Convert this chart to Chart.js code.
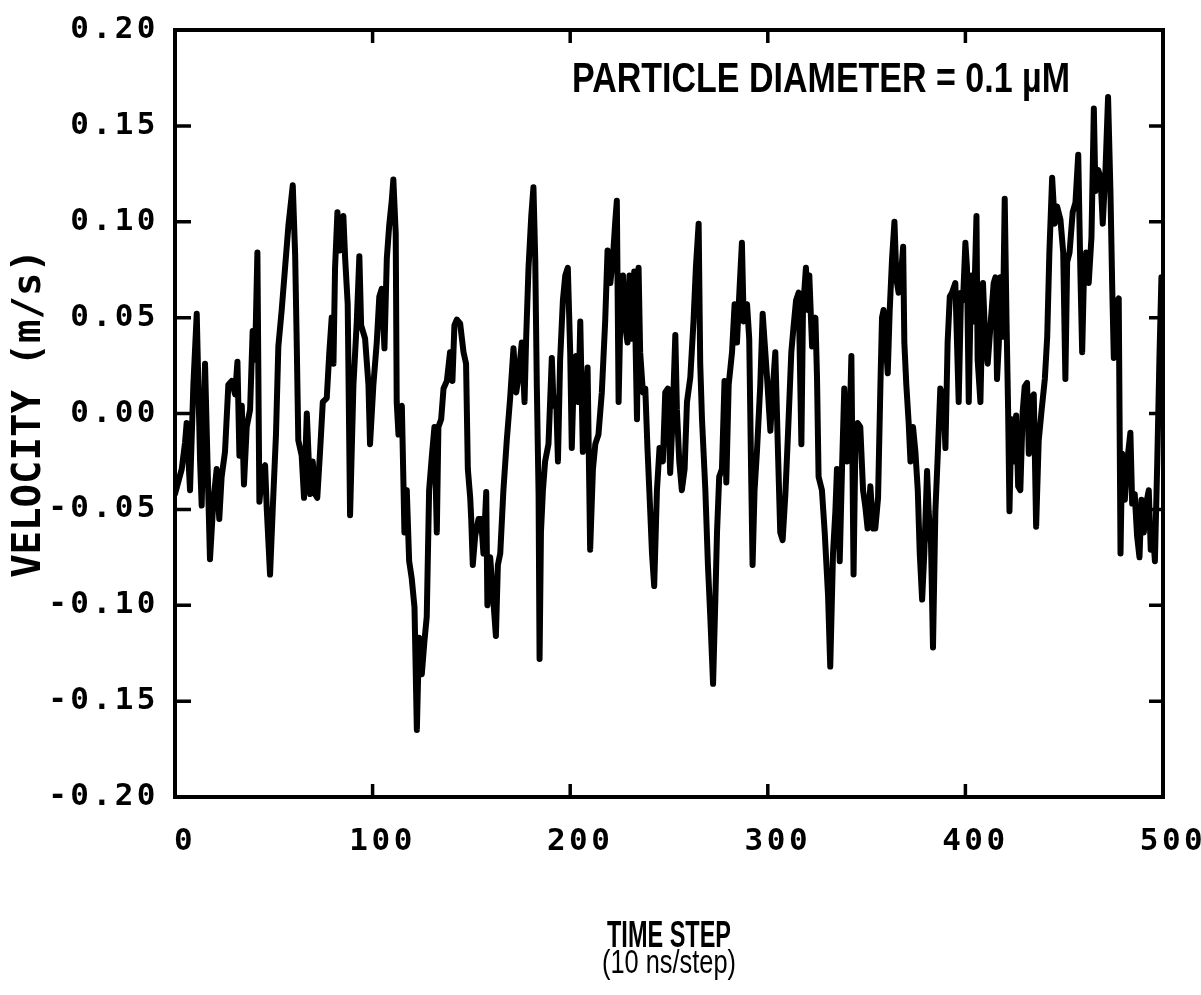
<!DOCTYPE html>
<html>
<head>
<meta charset="utf-8">
<script src="https://cdn.jsdelivr.net/npm/chart.js@4/dist/chart.umd.min.js"></script>
<style>
  body { margin: 0; background: #fff; }
  canvas { display: block; }
</style>
</head>
<body>
<canvas id="velocityChart" width="1201" height="995"></canvas>
<script>
// time step of each sample (10 ns/step)
const steps = [
  0, 3.4, 5.1, 5.9, 7.6, 9.3, 11, 12.7, 13.5, 15.2, 16.9, 17.7, 19.4, 21.1, 22.4, 23.6, 25.3, 27, 28.7, 30.4,
  31.6, 32.6, 33.8, 34.9, 36.3, 38, 39.3, 40.5, 41.7, 42.7, 44.4, 45.6, 46.4, 48.1, 49.5, 51.1, 52.3, 54, 55.7, 57.4,
  59.6, 60.8, 61.6, 62.4, 64.1, 65.3, 66.7, 68.4, 69.7, 70.9, 72, 73.4, 74.8, 76.8, 78.1, 79.3, 80.2, 81, 82.2,
  83.5, 85.2, 86.1, 87.4, 88.6, 90.3, 92, 93.3, 94.2, 96.2, 97.9, 98.7, 100.4, 102.1, 103.4, 104.6, 106, 107.2, 108.4, 109.7,
  110.5, 111.7, 112.2, 113.1, 114.8, 115.6, 116.1, 117.3, 118.5, 119.8, 121.2, 122.4, 123.5, 124.9, 126.2, 127.4, 128.6, 130, 131.3, 132.5,
  133.3, 134.7, 135.9, 137.6, 139.2, 140.4, 141.4, 142.6, 144.3, 146, 147.3, 148.2, 149.4, 149.9, 150.7, 151.9, 153.6, 154.9, 156.1, 157.5,
  158.1, 159.5, 161.2, 162.4, 163.4, 164.6,
  166.2, 167.9, 169.6, 171.3, 172.7, 173.8, 175.5, 176.9, 177.7, 178.9, 180.3, 181.4, 182.3, 183.1, 184, 184.5, 185.2, 186.2, 187.3, 189,
  190.7, 191.6, 192.9, 193.8, 194.9, 196.3, 197.5, 198.8, 200, 200.8, 201.7, 203, 204.2, 205.1, 206.4, 207.6, 208.8, 210.1, 211.5, 212.7,
  214.3, 216, 217.7, 218.9, 220.3, 221.6, 222.8, 223.6, 224.5, 225.3, 226.7, 227.8, 229, 230, 231.2, 232.4, 233.8, 234.6, 235.4, 236.8,
  238, 239.1, 240.5, 241.4, 242.5, 243.9, 245.2, 246.9, 248.1,
  249.4, 250.6, 251.8, 253.2, 254, 255.2, 256.5, 257.9, 259.1, 260.8, 262.4, 263.6, 265, 265.8, 266.7, 268.4, 269.7, 270.9, 272.3, 273.4,
  274.3, 275.4, 276.8, 278.1, 279, 280.2, 281.9, 283.2, 284.4, 285.6, 286.9, 287.8, 289.5, 290.6, 291.6, 292.3, 293.3, 294.5, 296.2, 297.4,
  298.4, 299.6, 301.3, 302.4, 303.8, 305.2, 306.3, 307.5, 308.9, 310.2, 311.9, 313.1, 314.3, 315.6, 317, 317.8, 319.3, 320.3, 321, 322.4,
  324.1, 324.9, 325.7, 327.4, 328.8, 330.5, 331.6, 333, 334.2,
  335, 336.4, 337.6, 338.7, 340.1, 341.4, 342.3, 343.4, 344.3, 345.5, 346.8, 348.2, 349.4, 350.5, 351.9, 353.3, 354.4, 355.8, 357, 357.8,
  358.6, 359.7, 360.7, 361.7, 362.9, 364.1, 365.1, 366.2, 367.4, 368.5, 369.1, 370.1, 371.3, 372.2, 373.5, 374.7, 375.9, 376.9, 378.1, 379.2,
  380.6, 381.4, 382.6, 383.6, 384.8, 386, 387.3, 389, 389.9, 391, 392.1, 393.2, 394.9, 396.6, 397.8, 398.8, 400, 400.8, 401.7, 402.9,
  404.2, 405.6, 406.2, 407.6, 408.9, 410.1, 411.3, 412.7, 414.3,
  415.2, 416, 416.9, 417.7, 418.9, 419.9, 420.8, 421.6, 422.3, 423.3, 424.5, 425.7, 426.7, 427.8, 429, 430, 431.2, 432.1, 433.4, 434.6,
  435.8, 437.1, 438.5, 440.2, 441.4, 442.5, 443.9, 445.2, 446.4, 448.1, 449.5, 450.6, 451.5, 452.7, 454.3, 455.7, 457.1, 458.2, 459.1, 459.9,
  461.1, 462.4, 463.8, 465, 465.8, 467.2, 468.4, 469.5, 470.9, 472.2, 473.4, 474.3, 475.1, 476.3, 477.6, 478.5, 479.3, 480.7, 481.9, 483.5,
  484.4, 485.7, 486.9, 488.1, 489.1, 490.3, 491.5, 492.8, 493.8, 494.8, 495.9, 497.1, 498.2, 499.2, 500
];

// particle velocity (m/s) at each step
const velocity = [
  -0.042, -0.029, -0.015, -0.005, -0.040, 0.015, 0.052, -0.025, -0.048, 0.026, -0.044, -0.076, -0.046, -0.029, -0.055, -0.033, -0.020, 0.015, 0.017, 0.010,
  0.027, -0.022, 0.004, -0.037, -0.007, 0.002, 0.043, 0.028, 0.084, -0.046, -0.029, -0.027, -0.049, -0.084, -0.049, -0.011, 0.035, 0.054, 0.076, 0.098,
  0.119, 0.083, 0.037, -0.014, -0.022, -0.044, 0.000, -0.042, -0.025, -0.042, -0.044, -0.020, 0.006, 0.008, 0.032, 0.050, 0.026, 0.076, 0.105,
  0.085, 0.103, 0.081, 0.057, -0.053, 0.015, 0.048, 0.082, 0.046, 0.039, 0.015, -0.016, 0.015, 0.037, 0.061, 0.065, 0.034, 0.081, 0.098, 0.111,
  0.122, 0.094, 0.006, -0.011, 0.004, -0.036, -0.062, -0.040, -0.077, -0.086, -0.101, -0.165, -0.117, -0.136, -0.119, -0.106, -0.040, -0.022, -0.007, -0.062,
  -0.007, -0.003, 0.013, 0.017, 0.032, 0.017, 0.046, 0.049, 0.047, 0.032, 0.026, -0.029, -0.044, -0.055, -0.079, -0.064, -0.055, -0.055, -0.073, -0.041,
  -0.100, -0.075, -0.099, -0.116, -0.079, -0.073,
  -0.040, -0.014, 0.008, 0.034, 0.011, 0.019, 0.037, 0.006, 0.039, 0.076, 0.103, 0.118, 0.081, 0.015, -0.042, -0.128, -0.062, -0.040, -0.025, -0.016,
  0.029, 0.004, 0.008, -0.025, 0.028, 0.059, 0.072, 0.076, 0.032, -0.018, 0.015, 0.030, 0.006, 0.048, -0.020, 0.002, 0.024, -0.071, -0.029, -0.016,
  -0.011, 0.011, 0.048, 0.085, 0.068, 0.081, 0.100, 0.111, 0.006, 0.046, 0.072, 0.046, 0.037, 0.072, 0.039, 0.074, -0.003, 0.076, 0.032, 0.011,
  0.013, -0.018, -0.051, -0.073, -0.090, -0.040, -0.018, -0.025, 0.011,
  0.013, -0.031, -0.003, 0.041, 0.002, -0.025, -0.040, -0.029, 0.006, 0.019, 0.048, 0.076, 0.099, 0.026, -0.003, -0.040, -0.079, -0.106, -0.141, -0.099,
  -0.062, -0.033, -0.029, 0.017, -0.036, 0.015, 0.032, 0.057, 0.037, 0.063, 0.089, 0.048, 0.057, 0.039, -0.033, -0.079, -0.040, -0.020, 0.015, 0.052,
  0.037, 0.019, -0.009, 0.011, 0.032, -0.022, -0.062, -0.066, -0.042, -0.011, 0.032, 0.046, 0.059, 0.063, -0.016, 0.054, 0.076, 0.054, 0.072, 0.035,
  0.050, 0.019, -0.033, -0.040, -0.062, -0.095, -0.132, -0.073, -0.051,
  -0.029, -0.077, -0.027, 0.013, -0.025, -0.007, 0.030, -0.084, -0.018, -0.005, -0.007, -0.040, -0.049, -0.060, -0.038, -0.060, -0.060, -0.044, 0.015, 0.050,
  0.054, 0.037, 0.021, 0.054, 0.081, 0.100, 0.070, 0.063, 0.072, 0.087, 0.037, 0.015, -0.005, -0.025, -0.007, -0.020, -0.040, -0.073, -0.097, -0.073,
  -0.030, -0.051, -0.068, -0.122, -0.051, -0.022, 0.013, 0.006, -0.018, 0.037, 0.061, 0.063, 0.068, 0.006, 0.063, 0.059, 0.089, 0.076, 0.006, 0.072,
  0.048, 0.103, 0.028, 0.006, 0.068, 0.037, 0.026, 0.046, 0.068,
  0.071, 0.018, 0.036, 0.071, 0.040, 0.112, 0.049, 0.003, -0.051, -0.003, -0.025, -0.001, -0.038, -0.040, 0.001, 0.014, 0.016, -0.021, 0.008, 0.010,
  -0.059, -0.014, 0.001, 0.018, 0.040, 0.084, 0.123, 0.099, 0.108, 0.101, 0.084, 0.018, 0.079, 0.084, 0.105, 0.110, 0.135, 0.073, 0.032, 0.068,
  0.084, 0.068, 0.092, 0.159, 0.116, 0.127, 0.123, 0.099, 0.127, 0.165, 0.116, 0.066, 0.029, 0.058, 0.060, -0.073, -0.021, -0.045, -0.025, -0.010,
  -0.047, -0.042, -0.064, -0.075, -0.045, -0.062, -0.047, -0.040, -0.071, -0.060, -0.077, -0.025, 0.029, 0.071, 0.058
];

// axis ticks
const xTicks = [0, 100, 200, 300, 400, 500];
const yTicks = [-0.20, -0.15, -0.10, -0.05, 0.00, 0.05, 0.10, 0.15, 0.20];

const xTitle = ['TIME STEP', '(10 ns/step)'];
const yTitle = 'VELOCITY (m/s)';
const annotation = 'PARTICLE DIAMETER = 0.1 \u00b5M';

const points = steps.map(function(s, i) {
  return { x: s, y: velocity[i] };
});

// draws text squeezed to a given width (the plotter lettering is narrow)
function fitText(ctx, text, cx, cy, width, font) {
  ctx.save();
  ctx.font = font;
  ctx.textAlign = 'center';
  ctx.textBaseline = 'middle';
  const w = ctx.measureText(text).width;
  ctx.translate(cx, cy);
  ctx.scale(width / w, 1);
  ctx.fillText(text, 0, 0);
  ctx.restore();
}

// spaced tick numbers, frame with inward ticks, titles
const framePlugin = {
  id: 'frame',
  beforeDraw(chart) {
    chart.ctx.letterSpacing = '3.5px';
  },
  beforeDatasetsDraw(chart) {
    chart.ctx.letterSpacing = '0px';
  },
  afterDraw(chart) {
    const ctx = chart.ctx;
    const a = chart.chartArea;
    const xs = chart.scales.x;
    const ys = chart.scales.y;
    ctx.save();
    ctx.letterSpacing = '0px';
    ctx.strokeStyle = '#000';
    ctx.lineWidth = 4;
    ctx.strokeRect(a.left, a.top, a.right - a.left, a.bottom - a.top);
    ctx.lineWidth = 3.5;
    yTicks.slice(1, -1).forEach(function(v) {
      const py = ys.getPixelForValue(v);
      ctx.beginPath();
      ctx.moveTo(a.left, py); ctx.lineTo(a.left + 16, py);
      ctx.moveTo(a.right, py); ctx.lineTo(a.right - 14, py);
      ctx.stroke();
    });
    xTicks.slice(1, -1).forEach(function(v) {
      const px = xs.getPixelForValue(v);
      ctx.beginPath();
      ctx.moveTo(px, a.bottom); ctx.lineTo(px, a.bottom - 13);
      ctx.moveTo(px, a.top); ctx.lineTo(px, a.top + 13);
      ctx.stroke();
    });
    ctx.fillStyle = '#000';

    // y axis title
    ctx.save();
    ctx.translate(30, (a.top + a.bottom) / 2);
    ctx.rotate(-Math.PI / 2);
    ctx.font = 'bold 39px "DejaVu Sans Mono", monospace';
    ctx.textAlign = 'center';
    ctx.textBaseline = 'middle';
    ctx.fillText(yTitle, 0, 0);
    ctx.restore();

    // x axis title, two lines
    const plotter = '"Liberation Sans", "DejaVu Sans", sans-serif';
    const midX = (a.left + a.right) / 2;
    fitText(ctx, xTitle[0], midX, 937, 124, 'bold 37px ' + plotter);
    fitText(ctx, xTitle[1], midX, 964, 134, '33px ' + plotter);

    // label inside the plot
    fitText(ctx, annotation, 821, 80, 498, 'bold 42px ' + plotter);
    ctx.restore();
  }
};

const ctx = document.getElementById('velocityChart').getContext('2d');
const chart = new Chart(ctx, {
  type: 'line',
  data: {
    datasets: [{
      label: 'Velocity',
      data: points,
      borderColor: '#000',
      borderWidth: 6,
      borderJoinStyle: 'round',
      borderCapStyle: 'round',
      pointRadius: 0,
      tension: 0,
      fill: false
    }]
  },
  options: {
    responsive: false,
    animation: false,
    layout: { padding: { left: 0, right: 38, top: 30, bottom: 0 } },
    plugins: {
      legend: { display: false },
      tooltip: { enabled: false }
    },
    scales: {
      x: {
        type: 'linear',
        min: 0,
        max: 500,
        afterBuildTicks(scale) {
          scale.ticks = xTicks.map(function(v) { return { value: v }; });
        },
        afterFit(scale) {
          scale.height = 198;
          scale.paddingLeft = 0;
          scale.paddingRight = 0;
        },
        grid: { display: false, drawTicks: false },
        border: { display: false },
        ticks: {
          color: '#000',
          padding: 26,
          labelOffset: 10,
          maxRotation: 0,
          font: { family: '"DejaVu Sans Mono", monospace', size: 31, weight: 'bold' },
          callback: function(v) { return String(v); }
        }
      },
      y: {
        type: 'linear',
        min: -0.2,
        max: 0.2,
        afterBuildTicks(scale) {
          scale.ticks = yTicks.map(function(v) { return { value: v }; });
        },
        afterFit(scale) {
          scale.width = 175;
          scale.paddingTop = 0;
          scale.paddingBottom = 0;
        },
        grid: { display: false, drawTicks: false },
        border: { display: false },
        ticks: {
          color: '#000',
          padding: 16,
          font: { family: '"DejaVu Sans Mono", monospace', size: 31, weight: 'bold' },
          callback: function(v) { return v.toFixed(2); }
        }
      }
    }
  },
  plugins: [framePlugin]
});
</script>
</body>
</html>
